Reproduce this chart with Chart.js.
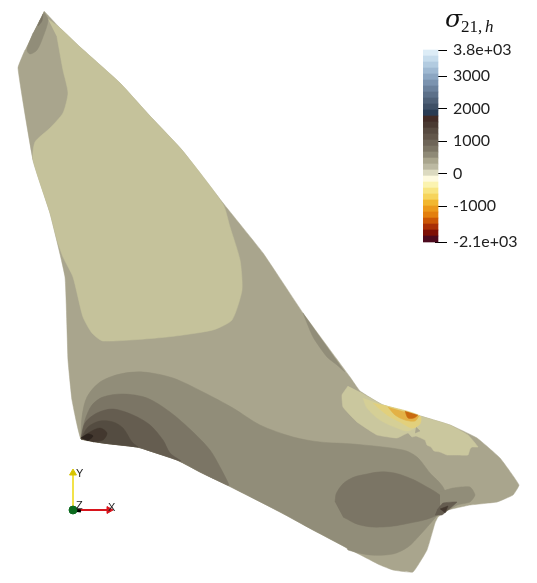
<!DOCTYPE html>
<html>
<head>
<meta charset="utf-8">
<script src="https://cdn.jsdelivr.net/npm/chart.js@4"></script>
<style>
body { margin: 0; background: #fff; }
canvas { position: absolute; }
#mesh { left: 0; top: 0; }
#bar { left: 423px; top: 0; }
</style>
</head>
<body>
<canvas id="mesh" width="537" height="583"></canvas>
<canvas id="bar" width="114" height="262"></canvas>
<script>
// colour bar
var barEdges = [3800, 3616, 3431, 3247, 3063, 2878, 2694, 2509, 2325, 2141, 1956, 1772, 1588, 1403, 1219, 1034,
    850, 666, 481, 297, 113, -72, -256, -441, -625, -809, -994, -1178, -1363, -1547, -1731, -1916, -2100];
var barColors = ['#dcecf6', '#c6dcec', '#b2cbe0', '#9fb9d2', '#8ca6c2', '#7b93af', '#6b819c', '#5c7089', '#4e6077', '#3f5066', '#2a3c54',
    '#422c27', '#4a3a32', '#574a40', '#62564a', '#6e6558', '#7c7565', '#8f8a77', '#a9a58d', '#bcb9a2', '#dcdac0',
    '#fefadf', '#fbf3b0', '#f8e582', '#f6d45c', '#f2b72f', '#ec991a', '#e37f0e', '#cb5605', '#a92f05', '#7e1006', '#4c0a1e'];
var tickValues = [3800, 3000, 2000, 1000, 0, -1000, -2100];
var tickLabels = ['3.8e+03', '3000', '2000', '1000', '0', '-1000', '-2.1e+03'];

// surface edges
var rightEdge = [[44,11],[60,28],[80,47],[120,83],[150,116],[182,150],[223,203],[263,253],[303,313],[350,377]];
var shoulderEdge = [[360,391],[383,405],[417,415],[450,425],[477,438],[500,458],[519,485],[513,495],[497,502],[470,505],[448,510],[438,517],[435,523],[427,550]];
var bottomEdge = [[81,439],[103,443],[137,447],[150,451],[177,460],[200,472],[227,485],[280,512],[313,530],[347,548],[380,565],[393,570],[413,572]];
var leftEdge = [[72,400],[68,360],[65,277],[50,213],[33,160],[18,68],[25,50]];

// contour bands
var paleTop = [[48,19],[60,28],[80,47],[120,83],[150,116],[182,150],[223,204],[230,227],[240,260],[242,290],[232,320],[213,330],[167,337],[103,341],[92,333],[83,317],[73,277],[63,257],[57,240],[50,213],[33,160],[35,142],[50,128],[63,113],[68,93],[63,70],[57,37]];
var topOval = [[44,12],[48,20],[43,37],[37,50],[30,54],[27,50],[33,33]];
var topDark = [[43,14],[42,21],[38,26],[40,20]];
var rightSliver = [[303,313],[313,337],[327,357],[337,365],[345,372]];
var band1Top = [[81,439],[82,417],[87,397],[100,382],[120,374],[143,372],[173,378],[203,392],[233,408],[260,425],[293,437],[320,442],[353,444],[403,450],[417,457],[430,473],[443,487],[447,503],[435,518],[420,535],[408,547],[393,554],[370,555],[348,550]];
var band2Top = [[81,439],[85,420],[92,405],[103,397],[123,394],[147,398],[170,412],[193,432],[210,450],[220,467],[229,485]];
var band3Top = [[81,439],[85,423],[97,413],[113,409],[133,415],[150,425],[163,440],[170,453],[181,461]];
var band4Top = [[81,439],[88,427],[100,421],[113,422],[123,428],[132,442],[138,447]];
var band5 = [[81,438],[90,432],[100,428],[107,433],[103,440],[93,442]];
var band6 = [[81,438],[88,434],[93,436],[88,441]];
var oval = [[335,502],[337,492],[348,480],[367,474],[387,472],[407,477],[427,487],[443,498],[447,508],[433,517],[410,523],[383,527],[360,525],[343,517]];
var notchPatch = [[440,492],[453,488],[470,487],[475,495],[470,502],[457,505],[448,510],[440,505]];
var notchDark = [[437,510],[443,503],[457,502],[448,510],[442,515],[435,515]];
var notchCore = [[440,509],[448,506],[445,513]];
var ridgePale = [[348,386],[342,395],[343,407],[357,422],[377,435],[397,438],[408,433],[412,437],[416,436],[425,440],[427,445],[431,447],[434,451],[440,452],[447,455],[455,455],[468,455],[470,449],[472,447],[478,447],[468,435],[450,425],[417,415],[383,405],[360,392]];
var ridgeHole = [[416,427],[420,431],[415,433]];
var ridge1 = [[363,398],[367,408],[380,420],[397,428],[408,431],[418,425],[420,416],[383,405]];
var ridge2 = [[373,403],[387,415],[400,422],[412,428],[420,424],[420,416],[383,405]];
var ridge3 = [[388,407],[395,415],[405,420],[415,421],[419,416]];
var ridge4 = [[405,411],[408,418],[414,418],[418,415]];

var cMain = '#a9a58d', cPale = '#c5c29b', cB1 = '#918d79', cB2 = '#7b7565', cB3 = '#655d50', cB4 = '#544c41', cB5 = '#43382f', cB6 = '#2d241e';

function below(maxX) {
    return bottomEdge.filter(function(p) { return p[0] <= maxX; }).reverse();
}

// painted back to front
var regions = [
    { pts: rightEdge.concat(shoulderEdge, bottomEdge.slice().reverse(), leftEdge), color: cMain, tension: 0.1 },
    { pts: paleTop, color: cPale, tension: 0.2 },
    { pts: topOval, color: cB1, tension: 0.3 },
    { pts: topDark, color: cB2, tension: 0.2 },
    { pts: rightSliver, color: cB1, tension: 0.2 },
    { pts: band1Top.concat(below(347)), color: cB1, tension: 0.3 },
    { pts: band2Top.concat(below(227)), color: cB2, tension: 0.3 },
    { pts: band3Top.concat(below(177)), color: cB3, tension: 0.3 },
    { pts: band4Top.concat(below(137)), color: cB4, tension: 0.3 },
    { pts: band5, color: cB5, tension: 0.3 },
    { pts: band6, color: cB6, tension: 0.3 },
    { pts: oval, color: cB2, tension: 0.4 },
    { pts: notchPatch, color: cB1, tension: 0.2 },
    { pts: notchDark, color: cB3, tension: 0.1 },
    { pts: notchCore, color: cB5, tension: 0 },
    { pts: ridgePale, color: '#cac79e', tension: 0.1 },
    { pts: ridgeHole, color: cMain, tension: 0 },
    { pts: ridge1, color: '#d5cf96', tension: 0.3 },
    { pts: ridge2, color: '#e2d07c', tension: 0.3 },
    { pts: ridge3, color: '#e3b145', tension: 0.3 },
    { pts: ridge4, color: '#c96a10', tension: 0.3 }
];

function toXY(p) { return { x: p[0], y: p[1] }; }

var meshSets = regions.map(function(r, i) {
    return {
        type: 'scatter',
        data: r.pts.map(toXY),
        showLine: true,
        fill: 'shape',
        backgroundColor: r.color,
        borderColor: r.color,
        borderWidth: 0.5,
        pointRadius: 0,
        tension: r.tension,
        order: 100 - i
    };
});

// orientation axes
function axisLine(a, b, color, width, order) {
    return { type: 'scatter', data: [toXY(a), toXY(b)], showLine: true, borderColor: color, borderWidth: width, pointRadius: 0, order: order };
}
function axisDot(p, color, style, size, angle, order) {
    return { type: 'scatter', data: [toXY(p)], pointStyle: style, pointRadius: size, pointRotation: angle, backgroundColor: color, borderColor: color, order: order };
}
meshSets.push(axisLine([73, 510], [73, 475], '#f2e24a', 2, 9));
meshSets.push(axisLine([73, 510], [108, 510], '#d8141c', 2, 9));
meshSets.push(axisLine([73, 510], [81, 511], '#000000', 3, 8));
meshSets.push(axisDot([73, 473], '#d8c400', 'triangle', 4, 0, 7));
meshSets.push(axisDot([109, 510], '#d8141c', 'triangle', 4, 90, 7));
meshSets.push(axisDot([73, 510], '#0b6a1e', 'circle', 4, 0, 6));

var labelsPlugin = {
    id: 'labelsPlugin',
    afterDraw: function(chart) {
        var c = chart.ctx;
        c.save();
        c.fillStyle = '#222';
        c.font = '11px "Liberation Sans"';
        c.fillText('Y', 76, 477);
        c.fillText('X', 108, 511);
        c.fillText('Z', 76, 509);
        c.fillStyle = '#111';
        c.font = 'italic 25px "DejaVu Serif"';
        c.fillText('σ', 445, 27);
        c.font = '17px "Liberation Serif"';
        c.fillText('21,', 461, 32);
        c.font = 'italic 17px "Liberation Serif"';
        c.fillText('h', 485, 32);
        c.restore();
    }
};

new Chart(document.getElementById('mesh'), {
    data: { datasets: meshSets },
    plugins: [labelsPlugin],
    options: {
        responsive: false,
        animation: false,
        layout: { padding: 0, autoPadding: false },
        plugins: { legend: { display: false }, tooltip: { enabled: false } },
        scales: {
            x: { type: 'linear', display: false, min: 0, max: 537 },
            y: { type: 'linear', display: false, min: 0, max: 583, reverse: true }
        }
    }
});

var barData = barColors.map(function(c, i) {
    return { x: 0.667, y: [barEdges[i + 1], barEdges[i]] };
});

new Chart(document.getElementById('bar'), {
    type: 'bar',
    data: {
        datasets: [{
            data: barData,
            backgroundColor: barColors,
            barThickness: 16,
            clip: false
        }]
    },
    options: {
        responsive: false,
        animation: false,
        layout: { padding: { top: 50, bottom: 20 } },
        plugins: { legend: { display: false }, tooltip: { enabled: false } },
        scales: {
            x: { type: 'linear', display: false, min: 0, max: 1 },
            y: {
                position: 'right',
                min: -2100,
                max: 3800,
                border: { display: false },
                grid: { drawOnChartArea: false, tickLength: 12, tickColor: '#000', tickWidth: 1 },
                afterBuildTicks: function(scale) {
                    scale.ticks = tickValues.map(function(v) { return { value: v }; });
                },
                afterFit: function(scale) { scale.width = 102; },
                ticks: {
                    autoSkip: false,
                    padding: 6,
                    color: '#222',
                    font: { family: 'Lato', size: 16 },
                    callback: function(v) { return tickLabels[tickValues.indexOf(v)]; }
                }
            }
        }
    }
});
</script>
</body>
</html>
